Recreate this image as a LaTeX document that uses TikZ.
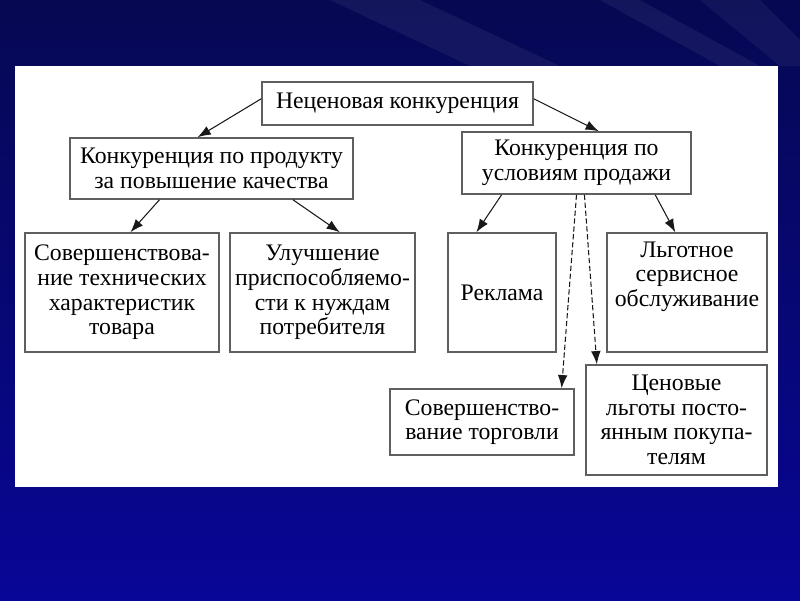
\documentclass[tikz,border=0pt]{standalone}
\usepackage{fontspec}
\setmainfont{Liberation Serif}
\usepackage{tikz}
\usetikzlibrary{
	positioning		% relative placement
	, arrows.meta	% Latex style tips
	, calc
}

\definecolor{slidetop}{RGB}{6,8,82}
\definecolor{slidebottom}{RGB}{8,6,150}
\definecolor{boxline}{RGB}{95,95,95}

\begin{document}
\begin{tikzpicture}[
		x=0.02cm, y=-0.02cm
		, box/.style={draw=boxline, line width=0.9pt, fill=white, align=center, inner sep=2pt,
			font=\fontsize{13.5}{14}\selectfont}
		, basearrow/.style={>={Latex[length=7.5pt,width=5.5pt]}, semithick, color=black!90}
		, solidlink/.style={basearrow, ->}
		, dashedlink/.style={basearrow, ->, dash pattern=on 3pt off 1.5pt}]

		%%% Slide background
		\useasboundingbox (0,0) rectangle (800,600);
		\fill[top color=slidetop, bottom color=slidebottom] (0,0) rectangle (800,600);
		\fill[white, opacity=0.06] (330,0) -- (420,0) -- (560,66) -- (470,66) -- cycle;
		\fill[white, opacity=0.06] (600,0) -- (640,0) -- (760,66) -- (720,66) -- cycle;
		\fill[white, opacity=0.05] (700,0) -- (760,0) -- (800,40) -- (800,66) -- (780,66) -- cycle;

		%% White panel
		\fill[white] (15,66) rectangle (778,487);

		%%% Top level
		\node[box, minimum width=5.42cm, minimum height=0.86cm] (nonprice) at (397.5,103.5)
			{Неценовая конкуренция};

		%%% Second level
		\node[box, minimum width=5.66cm, minimum height=1.22cm] (product) at (211.5,168.5)
			{Конкуренция по продукту\\за повышение качества};
		\node[box, minimum width=4.58cm, minimum height=1.24cm] (sales) at (576.5,163)
			{Конкуренция по\\условиям продажи};

		%%% Third level
		\node[box, minimum width=3.88cm, minimum height=2.38cm] (technical) at (122,292.5)
			{Совершенствова-\\ние технических\\характеристик\\товара};
		\node[box, minimum width=3.70cm, minimum height=2.38cm] (adaptability) at (322.5,292.5)
			{Улучшение\\приспособляемо-\\сти к нуждам\\потребителя};
		\node[box, minimum width=2.16cm, minimum height=2.38cm] (advertising) at (502,292.5)
			{Реклама};
		\node[box, minimum width=3.20cm, minimum height=2.38cm, text depth=21pt] (service) at (687,292.5)
			{Льготное\\сервисное\\обслуживание};

		%%% Bottom level
		\node[box, minimum width=3.68cm, minimum height=1.32cm] (trade) at (482,422)
			{Совершенство-\\вание торговли};
		\node[box, minimum width=3.62cm, minimum height=2.20cm] (pricing) at (676.5,420)
			{Ценовые\\льготы посто-\\янным покупа-\\телям};

		%%% Links
		\draw[solidlink] (nonprice.178) -- (product.114);
		\draw[solidlink] (nonprice.2) -- (sales.55);

		%% Product branch
		\draw[solidlink] (product.211) -- (technical.82);
		\draw[solidlink] (product.339) -- (adaptability.74);

		%% Sales branch
		\draw[solidlink] (sales.203) -- (advertising.113);
		\draw[solidlink] (sales.338) -- (service.101);
		\draw[dashedlink] (sales.270) -- (trade.23);
		\draw[dashedlink] (sales.284) -- (pricing.145);
	\end{tikzpicture}
\end{document}
